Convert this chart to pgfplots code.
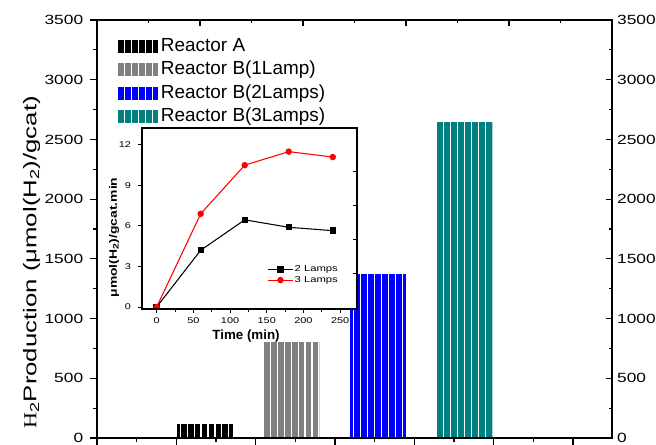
\documentclass[border=0pt]{standalone}
\usepackage{fontspec}
\setmainfont{Liberation Sans}
\newfontfamily\widesans[FakeStretch=1.3]{Liberation Sans}
\newfontfamily\widerB[FakeStretch=1.4]{Liberation Sans}
\newfontfamily\serifH[FakeStretch=1.2]{Liberation Serif}
\usepackage{pgfplots}
\pgfplotsset{compat=1.18}
\usetikzlibrary{patterns.meta}
\definecolor{tealB}{RGB}{0,128,128}
\definecolor{grayB}{RGB}{128,128,128}
\definecolor{blueB}{RGB}{0,0,255}
\tikzset{stripes/.style={postaction={pattern={Lines[angle=90,distance=5.2pt,line width=0.9pt]},pattern color=white}}}
\begin{document}
\begin{tikzpicture}
% main axis: bars, left and bottom ticks
\begin{axis}[
  at={(72.75pt,5.25pt)}, anchor=south west,
  scale only axis, width=386.25pt, height=313.5pt,
  xmin=-0.249, xmax=5.705, ymin=0, ymax=3500,
  xtick={-0.249,0.668,1.585,2.502,3.419,4.336,5.253},
  minor xtick={0.2095,1.1265,2.0435,2.9605,3.8775,4.7945},
  xticklabels={},
  ytick={0,500,...,3500}, minor y tick num=1,
  xtick pos=left, ytick pos=left, tick align=outside,
  major tick length=5pt, minor tick length=3pt,
  line width=1.1pt,
  every tick/.style={black, line width=0.9pt},
  /pgf/number format/assume math mode=true,
  /pgf/number format/1000 sep={},
  yticklabel style={font=\widesans\fontsize{10}{12}\selectfont, xshift=-1.5pt},
  ylabel={\widerB\fontsize{13.8}{16}\selectfont{\serifH H}\textsubscript{2}Production (μmol(H\textsubscript{2})/gcat)},
  ylabel style={at={(axis description cs:-0.127,0.42)}, anchor=center},
  legend style={at={(0.04,0.966)}, anchor=north west, draw=none, fill=none,
    font=\fontsize{14.2}{16}\selectfont, inner sep=0pt, row sep=0pt,
    nodes={inner sep=2pt, text height=10.5pt, text depth=3pt}},
  legend cell align=left,
  legend image code/.code={\path[#1] (0pt,-4.9pt) rectangle (30pt,4.9pt);},
]
\addplot[ybar, bar width=0.647, bar shift=0pt, fill=black, draw=none, stripes] coordinates {(1,120)};
\addlegendentry{Reactor A}
\addplot[ybar, bar width=0.647, bar shift=0pt, fill=grayB, draw=none, stripes] coordinates {(2,805)};
\addlegendentry{Reactor B(1Lamp)}
\addplot[ybar, bar width=0.647, bar shift=0pt, fill=blueB, draw=none, stripes] coordinates {(3,1372)};
\addlegendentry{Reactor B(2Lamps)}
\addplot[ybar, bar width=0.647, bar shift=0pt, fill=tealB, draw=none, stripes] coordinates {(4,2645)};
\addlegendentry{Reactor B(3Lamps)}
\end{axis}
% overlay axis: top and right ticks (inside), right labels
\begin{axis}[
  at={(72.75pt,5.25pt)}, anchor=south west,
  scale only axis, width=386.25pt, height=313.5pt,
  xmin=0, xmax=5, ymin=0, ymax=3500,
  xtick={0,1,...,5}, minor x tick num=1, xticklabels={},
  ytick={0,500,...,3500}, minor y tick num=1,
  xtick pos=right, ytick pos=right, yticklabel pos=right, tick align=inside,
  major tick length=4.5pt, minor tick length=2.5pt,
  line width=1.1pt,
  every tick/.style={black, line width=0.9pt},
  /pgf/number format/assume math mode=true,
  /pgf/number format/1000 sep={},
  yticklabel style={font=\widesans\fontsize{10}{12}\selectfont},
]
\end{axis}
% inset
\begin{axis}[
  at={(106.5pt,102pt)}, anchor=south west,
  scale only axis, width=161.25pt, height=135.75pt,
  xmin=-20, xmax=273, ymin=-0.15, ymax=13.25,
  xtick={0,50,...,250}, minor x tick num=1,
  ytick={0,3,...,12},
  xtick pos=left, ytick pos=left, tick align=outside,
  major tick length=3pt, minor tick length=2pt,
  line width=0.8pt,
  every tick/.style={black, line width=0.7pt},
  axis background/.style={fill=white},
  /pgf/number format/assume math mode=true,
  ticklabel style={font=\widesans\fontsize{6.3}{7}\selectfont},
  yticklabel style={xshift=-1.5pt},
  ylabel={\widesans\bfseries\fontsize{8}{9}\selectfont μmol(H\textsubscript{2})/gcat.min},
  ylabel style={at={(axis description cs:-0.13,0.395)}, anchor=center},
  xlabel={\bfseries\fontsize{10}{12}\selectfont Time (min)},
  xlabel style={at={(axis description cs:0.484,-0.15)}, anchor=center},
  legend style={at={(0.58,0.251)}, anchor=north west, draw=none, fill=none,
    font=\widesans\fontsize{6.5}{7}\selectfont, inner sep=0pt, row sep=0pt,
    nodes={inner sep=0.75pt, text height=5pt, text depth=1.5pt}},
  legend cell align=left,
  legend image code/.code={\draw[mark repeat=2,mark phase=2,#1] plot coordinates {(0pt,0pt)(9.5pt,0pt)(19pt,0pt)};},
]
\addplot[black, line width=0.8pt, mark=square*, mark size=2pt] coordinates {(0,0)(60,4.2)(120,6.45)(180,5.9)(240,5.65)};
\addlegendentry{2 Lamps}
\addplot[red, line width=0.8pt, mark=*, mark size=2pt] coordinates {(0,0)(60,6.9)(120,10.5)(180,11.5)(240,11.1)};
\addlegendentry{3 Lamps}
\end{axis}
\begin{axis}[
  at={(106.5pt,102pt)}, anchor=south west,
  scale only axis, width=161.25pt, height=135.75pt,
  xmin=-20, xmax=273, ymin=-0.15, ymax=13.25,
  xtick=\empty, ytick={2.5,5,7.5,10}, yticklabels={},
  ytick pos=right, tick align=inside,
  major tick length=3pt,
  line width=0.8pt,
  every tick/.style={black, line width=0.7pt},
]
\end{axis}
\pgfresetboundingbox
\path (0,0) rectangle (492pt,333.75pt);
\end{tikzpicture}
\end{document}
